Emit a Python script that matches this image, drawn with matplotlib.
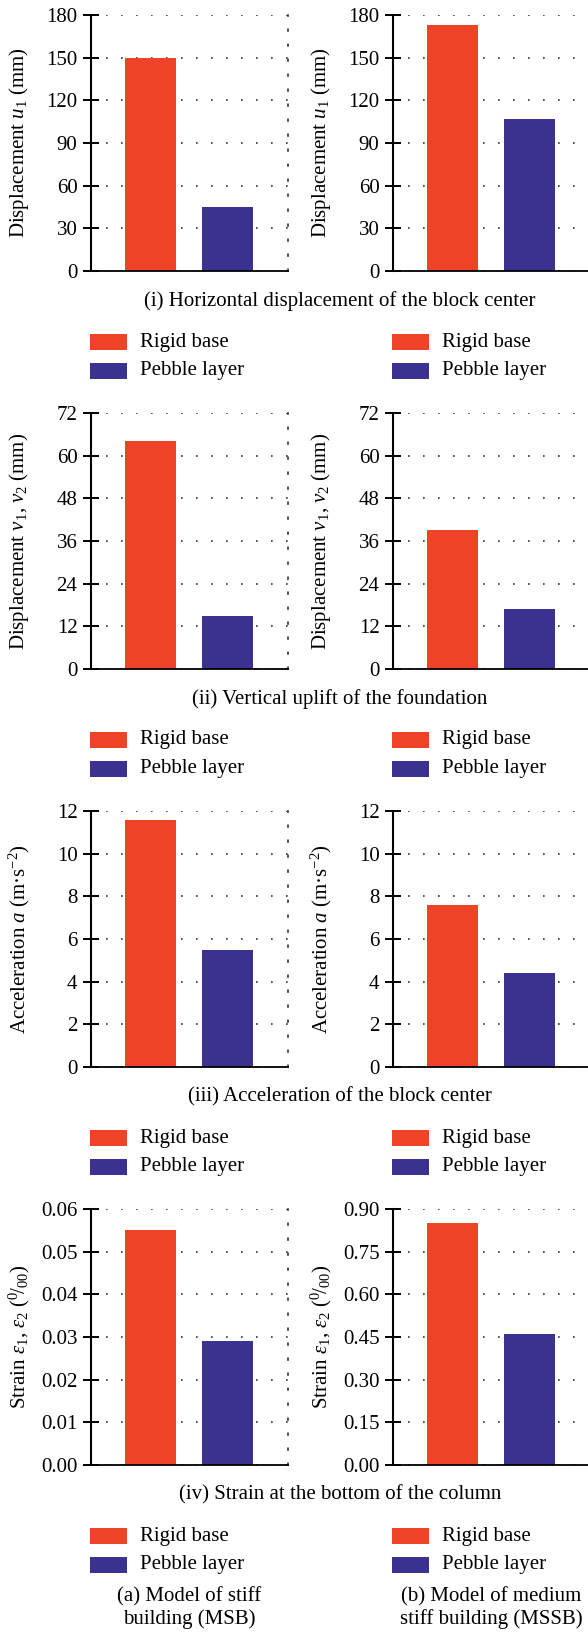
"""
Rigid base vs pebble layer response, MSB and MSSB models (4 x 2 bar panels).
"""
import numpy as np
import matplotlib
matplotlib.use("Agg")
import matplotlib.pyplot as plt
from matplotlib.patches import Rectangle
from matplotlib.ticker import FormatStrFormatter

plt.rcParams["font.family"] = ["Liberation Serif", "DejaVu Serif"]
plt.rcParams["mathtext.fontset"] = "custom"
plt.rcParams["mathtext.rm"] = "Liberation Serif"
plt.rcParams["mathtext.it"] = "Liberation Serif:italic"

W, H = 588, 1632
FS = 15
RED = "#EE4326"
BLUE = "#3A3191"

categories = ["Rigid base", "Pebble layer"]

msb_disp_u = [150, 45]
mssb_disp_u = [173, 107]
msb_disp_v = [64, 15]
mssb_disp_v = [39, 17]
msb_acc = [11.6, 5.5]
mssb_acc = [7.6, 4.4]
msb_strain = [0.055, 0.029]
mssb_strain = [0.85, 0.46]

ticks_u = [0, 30, 60, 90, 120, 150, 180]
ticks_v = [0, 12, 24, 36, 48, 60, 72]
ticks_a = [0, 2, 4, 6, 8, 10, 12]
ticks_s_msb = [0.00, 0.01, 0.02, 0.03, 0.04, 0.05, 0.06]
ticks_s_mssb = [0.00, 0.15, 0.30, 0.45, 0.60, 0.75, 0.90]

ylabel_u = r"Displacement $u_1$ (mm)"
ylabel_v = r"Displacement $v_1$, $v_2$ (mm)"
ylabel_a = r"Acceleration $a$ (m·s$^{-2}$)"
ylabel_s = r"Strain $\varepsilon_1$, $\varepsilon_2$ ($^0\!/_{00}$)"

captions = [
    "(i) Horizontal displacement of the block center",
    "(ii) Vertical uplift of the foundation",
    "(iii) Acceleration of the block center",
    "(iv) Strain at the bottom of the column",
]
model_titles = ["(a) Model of stiff\nbuilding (MSB)",
                "(b) Model of medium\nstiff building (MSSB)"]

rows = [
    (msb_disp_u, mssb_disp_u, ticks_u, ticks_u, ylabel_u, "%d"),
    (msb_disp_v, mssb_disp_v, ticks_v, ticks_v, ylabel_v, "%d"),
    (msb_acc, mssb_acc, ticks_a, ticks_a, ylabel_a, "%d"),
    (msb_strain, mssb_strain, ticks_s_msb, ticks_s_mssb, ylabel_s, "%.2f"),
]

# pixel layout
ROW_TOP = [15, 413, 811, 1209]
AX_H = 256
COL_X = [91, 393]
AX_W = 197
CAPTION_DY = 30
LEGEND_DY = [71, 100]
LEGEND_X = [90, 392]


def fx(x):
    return x / W


def fy(y):
    return 1 - y / H


def draw_panel(ax, values, ticks, ylabel, fmt):
    x = np.arange(len(values))
    ax.bar(x, values, width=0.675, color=[RED, BLUE], zorder=3)
    ax.set_xlim(-0.773, 1.786)
    ax.set_ylim(ticks[0], ticks[-1])
    ax.set_yticks(ticks)
    ax.yaxis.set_major_formatter(FormatStrFormatter(fmt))
    ax.set_xticks([])
    ax.tick_params(axis="y", direction="inout", length=11.5, width=1.4,
                   labelsize=FS, pad=4)
    ax.grid(axis="y", color="#333333", linestyle=(0, (1, 8)), linewidth=1.2, zorder=1)
    ax.spines["top"].set_visible(False)
    ax.spines["left"].set_linewidth(1.5)
    ax.spines["bottom"].set_linewidth(1.3)
    ax.spines["bottom"].set_zorder(4)
    ax.spines["right"].set_linestyle((0, (1, 8)))
    ax.spines["right"].set_linewidth(1.2)
    ax.spines["right"].set_color("#333333")
    ax.text(-72 / AX_W, 0.5, ylabel, transform=ax.transAxes, rotation=90,
            ha="center", va="center", fontsize=FS)


fig = plt.figure(figsize=(W / 100, H / 100), dpi=100)

for r, (left_vals, right_vals, lt, rt, ylab, fmt) in enumerate(rows):
    top = ROW_TOP[r]
    for c, (vals, tks) in enumerate([(left_vals, lt), (right_vals, rt)]):
        ax = fig.add_axes([fx(COL_X[c]), fy(top + AX_H), AX_W / W, AX_H / H])
        draw_panel(ax, vals, tks, ylab, fmt)

    bottom = top + AX_H
    fig.text(fx(340), fy(bottom + CAPTION_DY), captions[r], ha="center",
             va="center", fontsize=FS)

    for c in range(2):
        for k, (name, col) in enumerate(zip(categories, [RED, BLUE])):
            yc = bottom + LEGEND_DY[k]
            fig.add_artist(Rectangle((fx(LEGEND_X[c]), fy(yc + 8)), 37 / W, 16 / H,
                                     transform=fig.transFigure, facecolor=col,
                                     edgecolor="none"))
            fig.text(fx(LEGEND_X[c] + 50), fy(yc), name, ha="left",
                     va="center", fontsize=FS)

for c, title in enumerate(model_titles):
    fig.text(fx(COL_X[c] + AX_W / 2), fy(1608), title, ha="center",
             va="center", fontsize=FS, linespacing=1.15)

fig.savefig("out.png", dpi=100)
